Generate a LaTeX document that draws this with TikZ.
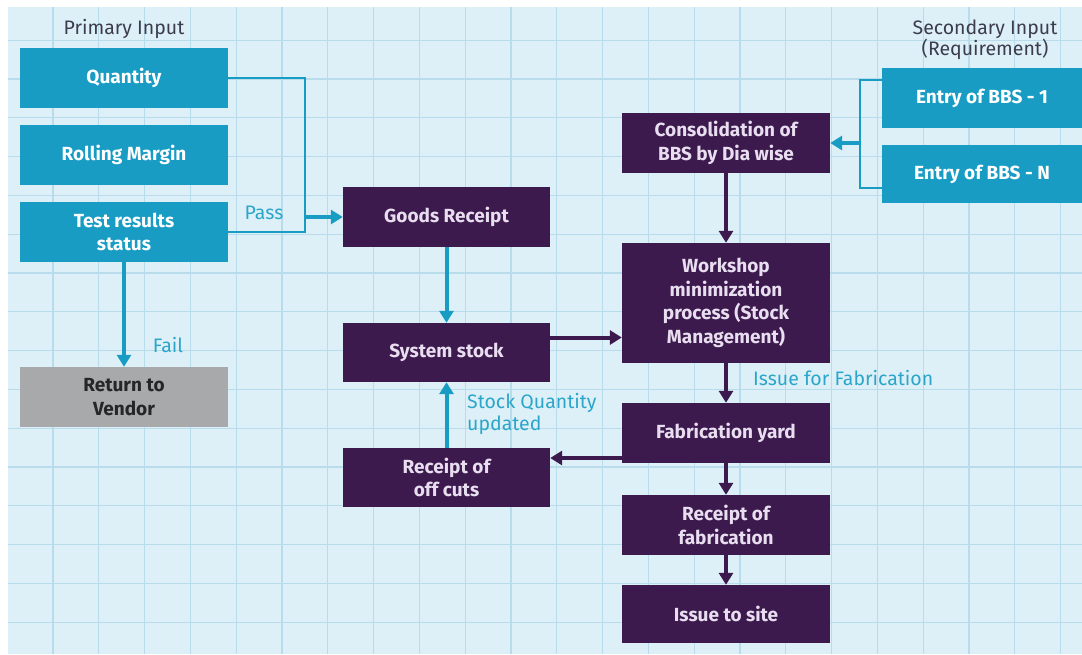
\documentclass[tikz,border=0pt]{standalone}
\usepackage{fontspec}
\setmainfont{Fira Sans}
\usetikzlibrary{arrows.meta}
\definecolor{bg}{HTML}{DDF0F8}
\definecolor{gridc}{HTML}{B8DCEC}
\definecolor{cyanb}{HTML}{189CC4}
\definecolor{purp}{HTML}{3D1A4E}
\definecolor{ptext}{HTML}{E8DEF0}
\definecolor{grayb}{HTML}{A8A9AB}
\definecolor{lab}{HTML}{2BA6CA}
\definecolor{ttl}{HTML}{3C3C4C}
\begin{document}
\begin{tikzpicture}[x=1pt,y=-1pt,
  box/.style={rectangle, minimum width=208pt, minimum height=60pt, inner sep=0pt, align=center,
    font=\fontsize{19}{23.5}\selectfont\bfseries},
  cbox/.style={box, fill=cyanb, text=white},
  pbox/.style={box, fill=purp, text=ptext},
  gbox/.style={box, fill=grayb, text=black!85},
  carrow/.style={draw=cyanb, line width=4pt, -{Triangle[length=12pt,width=14pt]}},
  parrow/.style={draw=purp, line width=4pt, -{Triangle[length=12pt,width=14pt]}},
  cline/.style={draw=cyanb, line width=2pt},
  lbl/.style={text=lab, font=\fontsize{19.5}{22}\selectfont, inner sep=0pt},
  ttlstyle/.style={text=ttl, font=\fontsize{19.5}{21.5}\selectfont, align=center, inner sep=0pt}]
\useasboundingbox (0,0) rectangle (1082,654);
\fill[white] (0,0) rectangle (1082,654);
\fill[bg] (8,7) rectangle (1082,654);
\begin{scope}
\clip (8,7) rectangle (1082,654);
\foreach \k in {0,...,23} \draw[gridc, line width=1.3pt] ({7.2+45.8*\k},7) -- ({7.2+45.8*\k},654);
\foreach \k in {0,...,16} \draw[gridc, line width=1.3pt] (8,{1.4+38.8*\k}) -- (1082,{1.4+38.8*\k});
\end{scope}

% titles
\node[ttlstyle] (t1) at (124,29) {Primary Input};
\node[ttlstyle] (t2) at (985,40) {Secondary Input\\(Requirement)};

% primary inputs
\node[cbox] (qty) at (124,78) {Quantity};
\node[cbox] (roll) at (124,155) {Rolling Margin};
\node[cbox] (test) at (124,232) {Test results\\status};
\node[gbox] (ret) at (124,397) {Return to\\Vendor};

% middle column
\node[pbox, minimum width=207pt] (gr) at (446.5,217) {Goods Receipt};
\node[pbox, minimum width=207pt, minimum height=59pt] (ss) at (446.5,352.5) {System stock};
\node[pbox, minimum width=207pt, minimum height=59pt] (roc) at (446.5,477.5) {Receipt of\\off cuts};

% right column
\node[pbox] (cons) at (726,143) {Consolidation of\\BBS by Dia wise};
\node[pbox, minimum height=120pt] (ws) at (726,303) {Workshop\\minimization\\process (Stock\\Management)};
\node[pbox] (fy) at (726,433) {Fabrication yard};
\node[pbox] (rf) at (726,525) {Receipt of\\fabrication};
\node[pbox, minimum height=58pt] (is) at (726,614) {Issue to site};

% secondary inputs
\node[cbox, minimum width=200pt] (bbs1) at (982,98) {Entry of BBS - 1};
\node[cbox, minimum width=200pt, minimum height=58pt] (bbsN) at (982,174) {Entry of BBS - N};

% connectors: primary
\coordinate (jx) at (305,150);
\draw[cline] (qty.east) -| (jx) |- (test.east);
\draw[carrow] (jx |- gr.west) -- (gr.west);
\node[lbl] (pass) at (264,213) {Pass};
\draw[carrow] (test.south) -- (ret.north);
\node[lbl] (fail) at (168,345) {Fail};

% middle
\draw[carrow] (gr.south) -- (ss.north);
\draw[parrow] ([yshift=15pt]ss.east) -- ([yshift=15pt]ss.east -| ws.west);
\draw[carrow] (roc.north) -- (ss.south);
\node[lbl, align=left, anchor=west, font=\fontsize{19.5}{22}\selectfont] (sqty) at (467,414) {Stock Quantity\\updated};
\draw[parrow] ([yshift=-25pt]fy.west) -- ([yshift=-25pt]fy.west -| roc.east);

% right column
\draw[parrow] (cons.south) -- (ws.north);
\draw[parrow] (ws.south) -- (fy.north);
\node[lbl, anchor=west] (iff) at (753,378) {Issue for Fabrication};
\draw[parrow] (fy.south) -- (rf.north);
\draw[parrow] (rf.south) -- (is.north);

% secondary bracket
\coordinate (bx) at (860,143);
\draw[cline] ([yshift=18pt]bbs1.west) -| (bx) |- ([yshift=-14pt]bbsN.west);
\draw[carrow] (bx) -- (cons.east);
\end{tikzpicture}
\end{document}
